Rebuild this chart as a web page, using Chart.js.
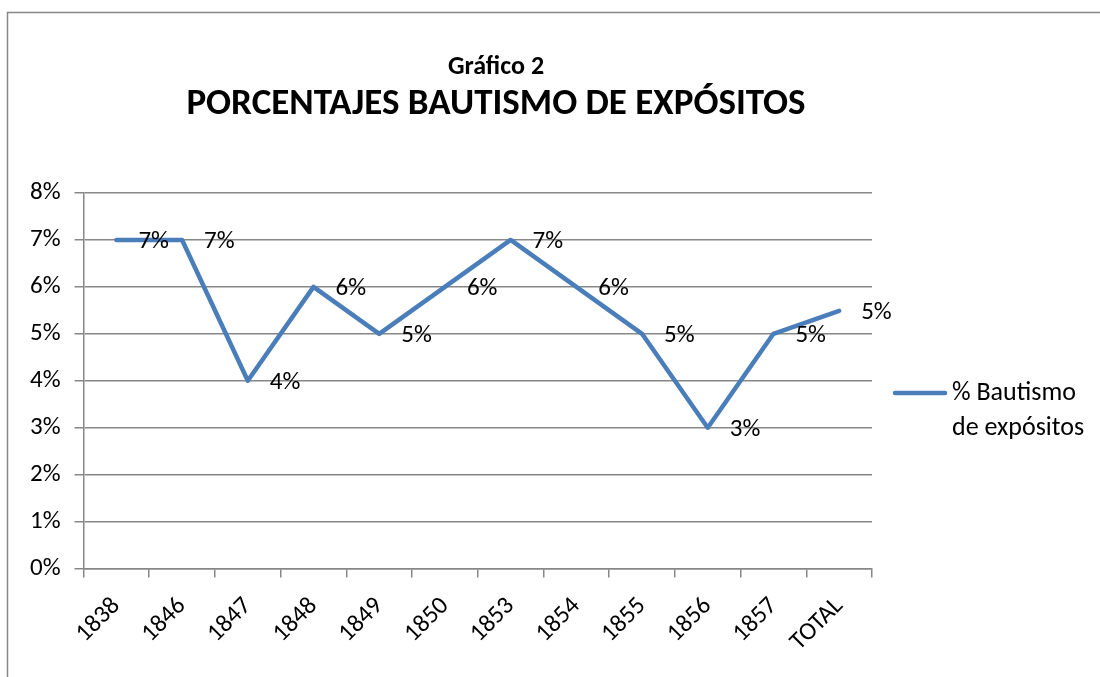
<!DOCTYPE html>
<html>
<head>
<meta charset="utf-8">
<script src="https://cdn.jsdelivr.net/npm/chart.js@4"></script>
<style>
  html, body { margin: 0; padding: 0; background: #fff; }
  #wrap { position: relative; width: 1100px; height: 677px; }
</style>
</head>
<body>
<div id="wrap"><canvas id="chart" width="1100" height="677"></canvas></div>
<script>
// Gráfico 2 - Porcentajes bautismo de expósitos

const years = ['1838', '1846', '1847', '1848', '1849', '1850', '1853', '1854', '1855', '1856', '1857', 'TOTAL'];
const bautismoPct = [7, 7, 4, 6, 5, 6, 7, 6, 5, 3, 5, 5.49];
const seriesName = ['% Bautismo', 'de expósitos'];
const chartTitle = 'Gráfico 2';
const chartSubtitle = 'PORCENTAJES BAUTISMO DE EXPÓSITOS';

const FONT = 'Carlito, Calibri, Lato, sans-serif';
const LINE_BLUE = '#4A7EBB';
const AXIS_GRAY = '#878787';

// titles, data labels, legend and outer frame, drawn like the Excel original
const excelDecor = {
    id: 'excelDecor',
    beforeDraw(chart) {
        const c = chart.ctx;
        c.save();
        c.strokeStyle = AXIS_GRAY;
        c.lineWidth = 1.5;
        c.beginPath();
        c.moveTo(7.5, 700);
        c.lineTo(7.5, 12.5);
        c.lineTo(1110, 12.5);
        c.stroke();
        c.restore();
    },
    afterDatasetsDraw(chart) {
        const c = chart.ctx;
        const area = chart.chartArea;
        const meta = chart.getDatasetMeta(0);
        c.save();
        c.fillStyle = '#000';
        c.font = '25px ' + FONT;
        c.textAlign = 'left';
        c.textBaseline = 'middle';
        meta.data.forEach((pt, i) => {
            c.fillText(Math.round(bautismoPct[i]) + '%', pt.x + 22, pt.y + 2);
        });

        // titles
        const cx = 496;
        c.textAlign = 'center';
        c.font = 'bold 26px ' + FONT;
        c.fillText(chartTitle, cx, 67);
        c.font = 'bold 37px ' + FONT;
        c.fillText(chartSubtitle, cx, 105);

        // legend
        const lx = area.right + 23;
        const ly = 393;
        c.strokeStyle = LINE_BLUE;
        c.lineWidth = 4.5;
        c.lineCap = 'round';
        c.beginPath();
        c.moveTo(lx, ly);
        c.lineTo(lx + 50, ly);
        c.stroke();
        c.textAlign = 'left';
        c.font = '26px ' + FONT;
        c.fillText(seriesName[0], lx + 57, ly);
        c.fillText(seriesName[1], lx + 57, ly + 35);
        c.restore();
    }
};

new Chart(document.getElementById('chart').getContext('2d'), {
    type: 'line',
    data: {
        labels: years,
        datasets: [{
            label: seriesName.join(' '),
            data: bautismoPct,
            borderColor: LINE_BLUE,
            backgroundColor: LINE_BLUE,
            borderWidth: 4.5,
            borderCapStyle: 'round',
            borderJoinStyle: 'round',
            pointRadius: 0,
            tension: 0
        }]
    },
    options: {
        responsive: false,
        animation: false,
        layout: {
            padding: { top: 193, right: 228, bottom: 6, left: 16 }
        },
        plugins: {
            legend: { display: false },
            title: { display: false },
            tooltip: { enabled: false }
        },
        scales: {
            x: {
                offset: true,
                grid: {
                    offset: true,
                    drawOnChartArea: false,
                    drawTicks: true,
                    tickLength: 9,
                    color: AXIS_GRAY,
                    lineWidth: 1.5
                },
                border: { color: AXIS_GRAY, width: 1.5 },
                ticks: {
                    color: '#000',
                    font: { family: FONT, size: 25 },
                    minRotation: 45,
                    maxRotation: 45,
                    padding: 14
                }
            },
            y: {
                min: 0,
                max: 8,
                grid: {
                    color: AXIS_GRAY,
                    lineWidth: 1.5,
                    tickLength: 9
                },
                border: { color: AXIS_GRAY, width: 1.5 },
                ticks: {
                    stepSize: 1,
                    color: '#000',
                    font: { family: FONT, size: 25 },
                    padding: 14,
                    callback: v => v + '%'
                }
            }
        }
    },
    plugins: [excelDecor]
});
</script>
</body>
</html>
